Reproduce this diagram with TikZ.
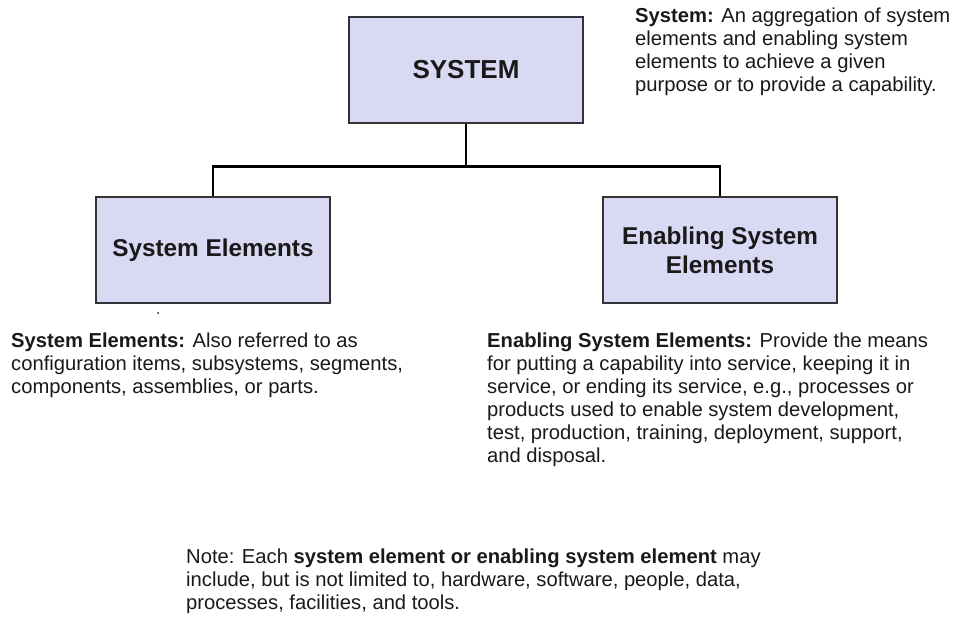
\documentclass[tikz,border=0pt]{standalone}
\usepackage{fontspec}
\setmainfont{Liberation Sans}
\usetikzlibrary{positioning}
\definecolor{boxfill}{RGB}{217,217,243}
\definecolor{boxline}{RGB}{50,50,55}
\definecolor{txt}{RGB}{25,25,25}

\begin{document}
\begin{tikzpicture}[x=1pt,y=-1pt,font=\fontsize{20.2}{23}\selectfont,
  blok/.style={draw=boxline,fill=boxfill,line width=1.3pt,minimum width=234pt,
    minimum height=106pt,align=center,text=txt,font=\fontsize{24.3}{29}\selectfont\bfseries},
  note/.style={anchor=north west,align=left,inner sep=0pt,text=txt},
  link/.style={line width=2.6pt}]

\useasboundingbox (0,0) rectangle (955,620);

\node[blok,font=\fontsize{26}{30}\selectfont\bfseries] (sys) at (466,70) {SYSTEM};
\node[blok] (elem) at (213,250) {System Elements};
\node[blok] (enab) at (720,250) {Enabling System\\Elements};

\draw[link] (sys.south) -- ++(0,43) coordinate (fork);
\draw[link] (elem.north) |- (fork) -| (enab.north);

\fill[txt] (158,313) circle (1pt);

\node[note] (sysnote) at (635,8) {\textbf{System:} An aggregation of system\\
  elements and enabling system\\
  elements to achieve a given\\
  purpose or to provide a capability.};

\node[note] (elemnote) at (11,333) {\textbf{System Elements:} Also referred to as\\
  configuration items, subsystems, segments,\\
  components, assemblies, or parts.};

\node[note] (enabnote) at (487,333) {\textbf{Enabling System Elements:} Provide the means\\
  for putting a capability into service, keeping it in\\
  service, or ending its service, e.g., processes or\\
  products used to enable system development,\\
  test, production, training, deployment, support,\\
  and disposal.};

\node[note] (allnote) at (186,549) {Note: Each \textbf{system element or enabling system element} may\\
  include, but is not limited to, hardware, software, people, data,\\
  processes, facilities, and tools.};

\end{tikzpicture}
\end{document}
